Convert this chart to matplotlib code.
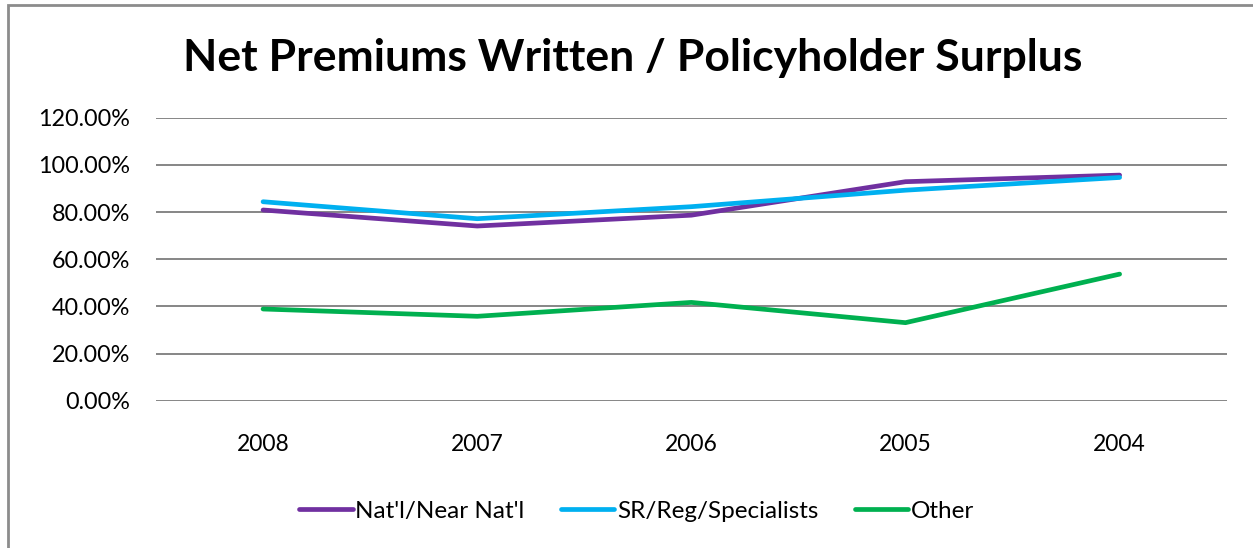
import matplotlib.pyplot as plt
from matplotlib.patches import Rectangle
from matplotlib.ticker import PercentFormatter

# Datos
years = ["2008", "2007", "2006", "2005", "2004"]
natl = [80.9, 74.1, 78.7, 92.9, 95.7]
sr_reg = [84.4, 77.2, 82.3, 89.3, 94.7]
other = [38.9, 35.8, 41.7, 33.1, 53.7]

plt.rcParams['font.family'] = ['Lato', 'DejaVu Sans']

fig = plt.figure(figsize=(12.53, 5.48), dpi=100)
ax = fig.add_axes([0.1245, 0.2688, 0.979 - 0.1245, 0.785 - 0.2688])

x = range(len(years))
ax.plot(x, natl, color='#7030A0', lw=3.4, label="Nat'l/Near Nat'l", solid_capstyle='round')
ax.plot(x, sr_reg, color='#00B0F0', lw=3.4, label="SR/Reg/Specialists", solid_capstyle='round')
ax.plot(x, other, color='#00B050', lw=3.4, label="Other", solid_capstyle='round')

ax.set_xlim(-0.5, len(years) - 0.5)
ax.set_ylim(0, 120)
ax.set_yticks(range(0, 121, 20))
ax.yaxis.set_major_formatter(PercentFormatter(decimals=2))
ax.set_xticks(list(x))
ax.set_xticklabels(years)
ax.tick_params(axis='both', length=0)
ax.tick_params(axis='y', pad=18.5, labelsize=16.8)
ax.tick_params(axis='x', pad=24, labelsize=16.5)
ax.grid(axis='y', color='#868686', lw=1.4)
ax.set_axisbelow(True)
for s in ax.spines.values():
    s.set_visible(False)

fig.text(0.505, 0.894, "Net Premiums Written / Policyholder Surplus",
         ha='center', va='center', fontsize=32, fontweight='bold')

fig.legend(loc='center', bbox_to_anchor=(0.508, 0.0675), ncol=3, frameon=False,
           fontsize=17.5, handlelength=2.2, handletextpad=0.1, columnspacing=1.5)

# borde del area del grafico
fig.patches.append(Rectangle((8 / 1253, -0.1), 1.5, 1.0 - 5 / 548 + 0.1,
                             transform=fig.transFigure, fill=False,
                             edgecolor='#8c8c8c', lw=2))

fig.savefig("out.png", dpi=100)
